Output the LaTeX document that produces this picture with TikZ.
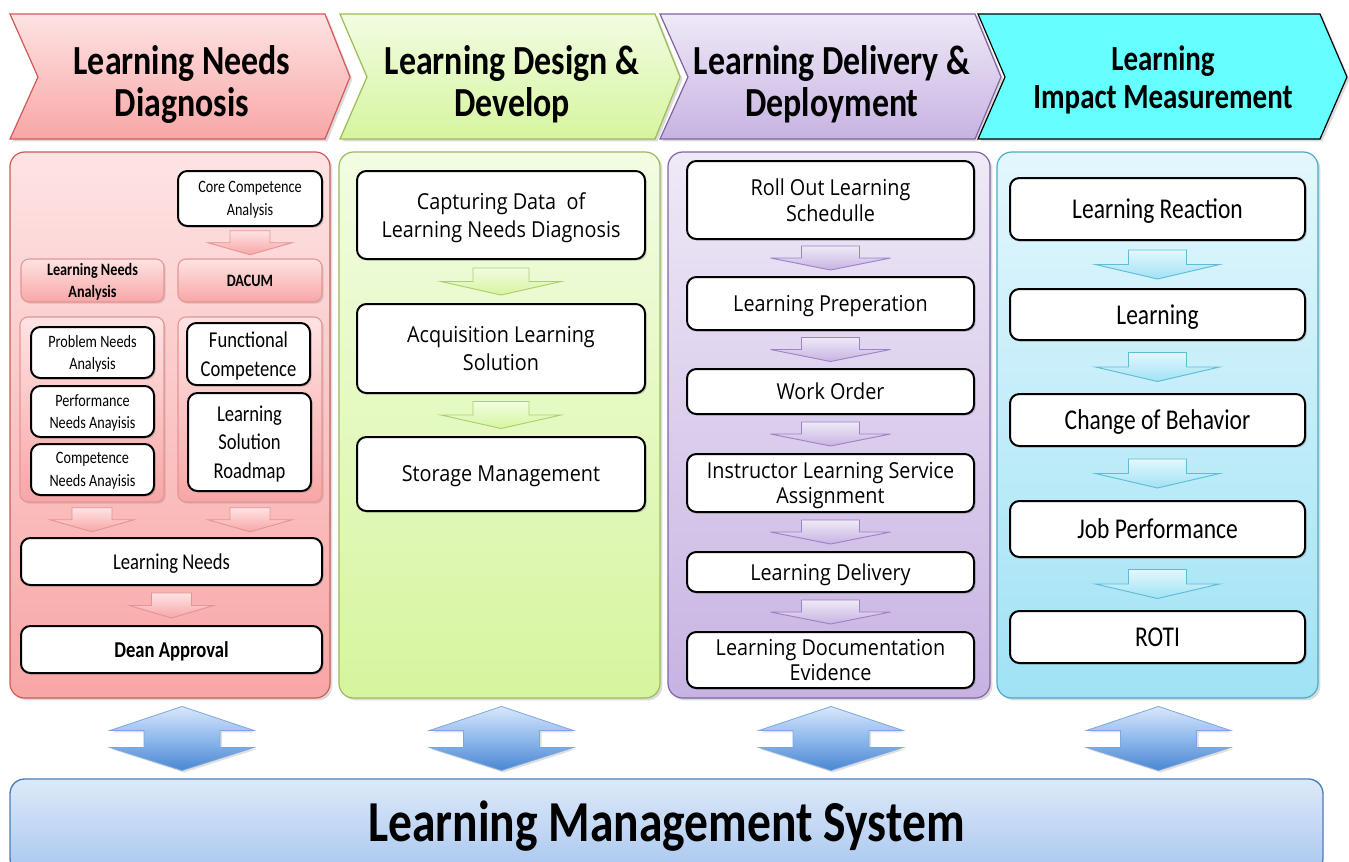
\documentclass[tikz,border=0pt]{standalone}
\usepackage{fontspec}
\setmainfont{Carlito}
\newfontfamily\calf[FakeStretch=0.82]{Carlito}
\newfontfamily\segf[FakeStretch=0.9]{Open Sans}
\usetikzlibrary{calc,shadows}
\definecolor{redT}{HTML}{FEE3E3}\definecolor{redB}{HTML}{F8A6A6}\definecolor{redL}{HTML}{D05A58}
\definecolor{pinkL}{HTML}{E59494}
\definecolor{grnT}{HTML}{F2FCE2}\definecolor{grnB}{HTML}{D6F59E}\definecolor{grnL}{HTML}{9BBB59}
\definecolor{grnAL}{HTML}{AACF72}
\definecolor{purT}{HTML}{EFE9F7}\definecolor{purB}{HTML}{C7B3E2}\definecolor{purL}{HTML}{8064A2}
\definecolor{purAL}{HTML}{9F82C6}
\definecolor{cyaT}{HTML}{E3F7FD}\definecolor{cyaB}{HTML}{A0E2F5}\definecolor{cyaL}{HTML}{4BACC6}
\definecolor{cyaAL}{HTML}{5FBCD8}\definecolor{cyaH}{HTML}{66FFFF}
\definecolor{bluT}{HTML}{D8E7FB}\definecolor{bluM}{HTML}{8FB9EC}\definecolor{bluB}{HTML}{4A86D2}
\definecolor{bluL}{HTML}{7AA7E0}
\definecolor{lmsT}{HTML}{DDE9F9}\definecolor{lmsB}{HTML}{A9C7EF}\definecolor{lmsL}{HTML}{4A7EBB}
\newcommand\bx[7]{\node[#6, minimum width={(#4-#2)*0.75pt}, minimum height={(#5-#3)*0.75pt}] (#1) at ({(#2+#4)/2},{(#3+#5)/2}) {#7};}
\newcommand\darr[6]{%
  \path (#1.south) -- (#1.south |- #2.north) coordinate[pos=0.5] (ac);
  \draw[#6] ([xshift={-#4*0.75pt},yshift={#5*0.375pt}]ac) -- ([xshift={#4*0.75pt},yshift={#5*0.375pt}]ac)
   -- ([xshift={#4*0.75pt}]ac) -- ([xshift={#3*0.75pt}]ac) -- ([yshift={-#5*0.375pt}]ac)
   -- ([xshift={-#3*0.75pt}]ac) -- ([xshift={-#4*0.75pt}]ac) -- cycle;}
\newcommand\dbl[2]{%
  \coordinate (dt) at ([xshift={#2*0.75pt}]#1.south);
  \path (dt) -- (dt |- lms.north) coordinate[pos=0.5] (dc);
  \draw[dblarrow] ([yshift=24pt]dc) -- ([xshift=54pt,yshift=6pt]dc) -- ([xshift=28.5pt,yshift=6pt]dc)
   -- ([xshift=28.5pt,yshift=-6.75pt]dc) -- ([xshift=54pt,yshift=-6.75pt]dc) -- ([yshift=-24pt]dc)
   -- ([xshift=-54pt,yshift=-6.75pt]dc) -- ([xshift=-28.5pt,yshift=-6.75pt]dc) -- ([xshift=-28.5pt,yshift=6pt]dc)
   -- ([xshift=-54pt,yshift=6pt]dc) -- cycle;}
\tikzset{
  shd/.style={drop shadow={opacity=0.28, shadow xshift=1.8pt, shadow yshift=-1.8pt}},
  panel/.style={rounded corners=11pt, line width=0.9pt, shd, inner sep=0pt},
  redpanel/.style={panel, draw=redL, top color=redT, bottom color=redB},
  greenpanel/.style={panel, draw=grnL, top color=grnT, bottom color=grnB},
  purppanel/.style={panel, draw=purL, top color=purT, bottom color=purB},
  cyanpanel/.style={panel, draw=cyaL, top color=cyaT, bottom color=cyaB},
  wbox/.style={draw=black, line width=1.5pt, fill=white, rounded corners=7pt, align=center, inner sep=0pt, text depth=0pt,
    drop shadow={opacity=0.3, shadow xshift=1.3pt, shadow yshift=-1.3pt}},
  pbox/.style={draw=pinkL, line width=0.8pt, top color=redT, bottom color=redB, rounded corners=6pt, align=center, inner sep=0pt, text depth=0pt,
    drop shadow={opacity=0.25, shadow xshift=1.3pt, shadow yshift=-1.3pt}},
  gbox/.style={pbox},
  rtxt/.style={font={\calf\fontsize{13}{17}\selectfont}},
  rbtxt/.style={font={\calf\bfseries\fontsize{13}{17}\selectfont}},
  rbig/.style={font={\calf\fontsize{17}{21.5}\selectfont}},
  gtxt/.style={font={\segf\fontsize{16.5}{21.5}\selectfont}},
  ptxt/.style={font={\segf\fontsize{16.5}{19}\selectfont}},
  ctxt/.style={font={\calf\fontsize{21.5}{26}\selectfont}},
  htxt/.style={font={\calf\bfseries\fontsize{31}{32}\selectfont}, align=center, text depth=0pt},
  redarr/.style={draw=pinkL, line width=0.7pt, top color=redT, bottom color=redB},
  grnarr/.style={draw=grnAL, line width=0.7pt, top color=grnT, bottom color=grnB},
  purarr/.style={draw=purAL, line width=0.7pt, top color=purT, bottom color=purB},
  cyaarr/.style={draw=cyaAL, line width=0.7pt, top color=cyaT, bottom color=cyaB},
  dblarrow/.style={draw=bluL, line width=0.6pt, top color=bluT, bottom color=bluB, middle color=bluM,
    drop shadow={opacity=0.25, shadow xshift=1.5pt, shadow yshift=-1.5pt}},
  lmsbox/.style={draw=lmsL, line width=1pt, top color=lmsT, bottom color=lmsB, rounded corners=11pt,
    font={\calf\bfseries\fontsize{43.5}{45}\selectfont}, inner sep=0pt}
}
\begin{document}
\begin{tikzpicture}[x=0.75pt,y=-0.75pt]
\useasboundingbox (0,0) rectangle (1349,861);
\fill[white] (0,0) rectangle (1349,861);
\clip (0,0) rectangle (1349,861);
% headers
\draw[draw=redL, line width=0.9pt, top color=redT, bottom color=redB, shd] (10,14) -- (325,14) -- (350,77) -- (325,139) -- (10,139) -- (38,77) -- cycle;
\draw[draw=grnL, line width=0.9pt, top color=grnT, bottom color=grnB, shd] (340,14) -- (655,14) -- (680,77) -- (655,139) -- (340,139) -- (367,77) -- cycle;
\draw[draw=purL, line width=0.9pt, top color=purT, bottom color=purB, shd] (660,14) -- (975,14) -- (1001,77) -- (975,139) -- (660,139) -- (688,77) -- cycle;
\draw[draw=black, line width=0.9pt, fill=cyaH, shd] (978,14) -- (1320,14) -- (1347,77) -- (1320,139) -- (978,139) -- (1005,77) -- cycle;
\node[htxt] (h1) at (182,81) {Learning Needs\\Diagnosis};
\node[htxt] (h2) at (512,81) {Learning Design \&\\Develop};
\node[htxt] (h3) at (832,81) {Learning Delivery \&\\Deployment};
\node[font={\calf\bfseries\fontsize{26.5}{28}\selectfont}, align=center] (h4) at (1163,80) {Learning\\Impact Measurement};
% panels
\bx{pred}{10}{152}{330}{698}{redpanel}{}
\bx{pgreen}{339}{152}{660}{698}{greenpanel}{}
\bx{ppurp}{668}{152}{990}{698}{purppanel}{}
\bx{pcyan}{997}{152}{1318}{698}{cyanpanel}{}
% LMS
\bx{lms}{10}{779}{1323}{873}{lmsbox}{Learning Management System}
% red column
\bx{core}{178}{171}{322}{226}{wbox,rtxt}{Core Competence\\Analysis}
\bx{lna}{21}{259}{164}{302}{pbox,rbtxt}{Learning Needs\\Analysis}
\bx{dacum}{178}{259}{322}{302}{pbox,rbtxt}{DACUM}
\bx{gl}{20}{317}{164}{502}{gbox}{}
\bx{gr}{178}{317}{322}{502}{gbox}{}
\bx{pna}{31}{327}{154}{378}{wbox,rtxt}{Problem Needs\\Analysis}
\bx{perf}{31}{386}{154}{437}{wbox,rtxt}{Performance\\Needs Anayisis}
\bx{comp}{31}{444}{154}{495}{wbox,rtxt}{Competence\\Needs Anayisis}
\bx{func}{187}{323}{310}{385}{wbox,rbig}{Functional\\Competence}
\bx{lsr}{188}{393}{311}{491}{wbox,rbig}{Learning\\Solution\\Roadmap}
\bx{ln}{21}{538}{322}{585}{wbox,rbig}{Learning Needs}
\bx{dean}{21}{626}{322}{673}{wbox,rbig,font={\calf\bfseries\fontsize{17}{21.5}\selectfont}}{Dean Approval}
\darr{core}{dacum}{42}{20}{24}{redarr}
\darr{gl}{ln}{42}{20}{24}{redarr}
\darr{gr}{ln}{42}{20}{24}{redarr}
\darr{ln}{dean}{42}{20}{25}{redarr}
% green column
\bx{cap}{357}{171}{645}{259}{wbox,gtxt}{Capturing Data~ of\\Learning Needs Diagnosis}
\bx{acq}{357}{304}{645}{393}{wbox,gtxt}{Acquisition Learning\\Solution}
\bx{stor}{357}{437}{645}{511}{wbox,gtxt}{Storage Management}
\darr{cap}{acq}{60}{28}{27}{grnarr}
\darr{acq}{stor}{60}{28}{27}{grnarr}
% purple column
\bx{roll}{687}{161}{974}{239}{wbox,ptxt}{Roll Out Learning\\Schedulle}
\bx{prep}{687}{277}{974}{330}{wbox,ptxt}{Learning Preperation}
\bx{wo}{687}{369}{974}{414}{wbox,ptxt}{Work Order}
\bx{instr}{687}{454}{974}{512}{wbox,ptxt}{Instructor Learning Service\\Assignment}
\bx{deliv}{687}{552}{974}{592}{wbox,ptxt}{Learning Delivery}
\bx{doc}{687}{632}{974}{688}{wbox,ptxt}{Learning Documentation\\Evidence}
\darr{roll}{prep}{60}{29}{24}{purarr}
\darr{prep}{wo}{60}{29}{24}{purarr}
\darr{wo}{instr}{60}{29}{24}{purarr}
\darr{instr}{deliv}{60}{29}{24}{purarr}
\darr{deliv}{doc}{60}{29}{24}{purarr}
% cyan column
\bx{react}{1010}{178}{1305}{240}{wbox,ctxt}{Learning Reaction}
\bx{learn}{1010}{289}{1305}{340}{wbox,ctxt}{Learning}
\bx{cob}{1010}{394}{1305}{446}{wbox,ctxt}{Change of Behavior}
\bx{jp}{1010}{501}{1305}{557}{wbox,ctxt}{Job Performance}
\bx{roti}{1010}{611}{1305}{663}{wbox,ctxt}{ROTI}
\darr{react}{learn}{62}{29}{29}{cyaarr}
\darr{learn}{cob}{62}{29}{29}{cyaarr}
\darr{cob}{jp}{62}{29}{29}{cyaarr}
\darr{jp}{roti}{62}{29}{29}{cyaarr}
% double arrows
\dbl{pred}{12}
\dbl{pgreen}{2}
\dbl{ppurp}{2}
\dbl{pcyan}{1}
\end{tikzpicture}
\end{document}
